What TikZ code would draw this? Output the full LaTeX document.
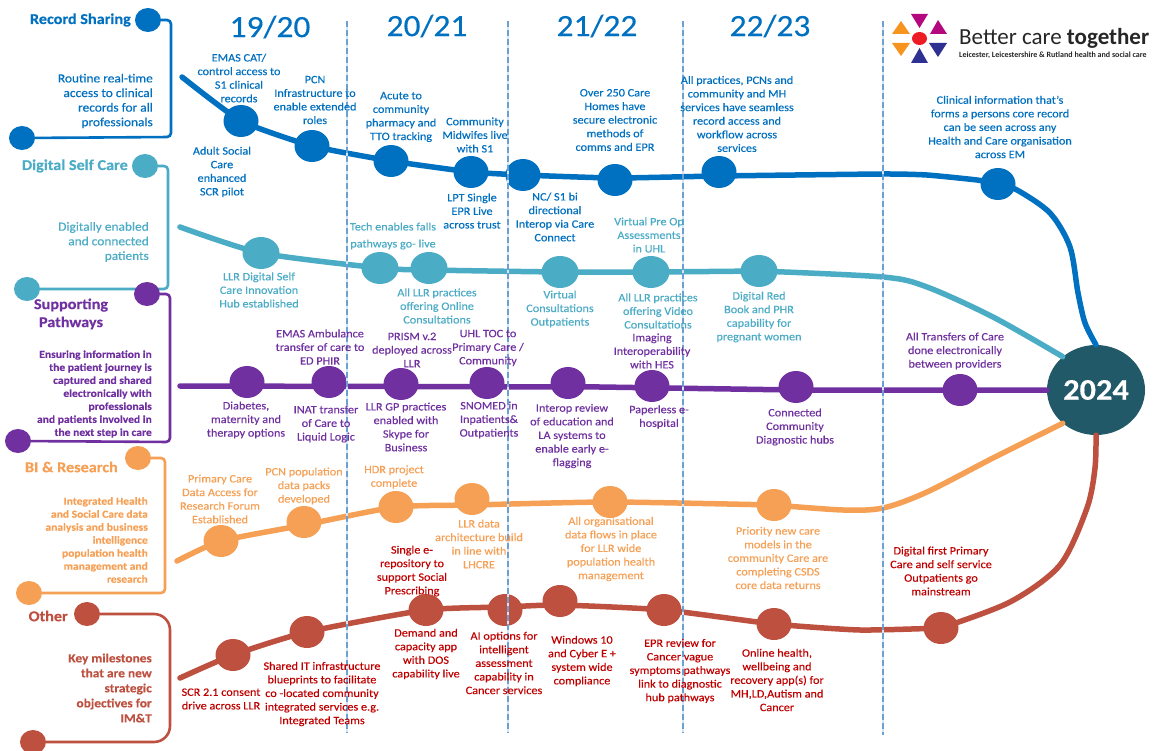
\documentclass[tikz,border=0pt]{standalone}
\usepackage{fontspec}
\setmainfont[FakeStretch=1.08,FakeBold=0.25]{Carlito}
\newfontfamily\logofont{Carlito}
\usetikzlibrary{shapes.geometric}
\definecolor{cblue}{HTML}{0070C0}
\definecolor{cteal}{HTML}{4BACC6}
\definecolor{cpurp}{HTML}{7030A0}
\definecolor{corange}{HTML}{F6A055}
\definecolor{cbrick}{HTML}{BE5040}
\definecolor{credtxt}{HTML}{C00000}
\definecolor{chub}{HTML}{215968}
\definecolor{cdash}{HTML}{4A8AC8}
\definecolor{cdashbg}{HTML}{D5E5F4}
\definecolor{lmag}{HTML}{B5087F}
\definecolor{lnavy}{HTML}{2E3192}
\definecolor{lorange}{HTML}{F7941D}
\definecolor{lred}{HTML}{ED1C24}
\tikzset{
  x=1pt,y=-1pt,
  dot/.style={ellipse,inner sep=0pt,minimum width=35pt,minimum height=32pt,fill=#1},
  tabdot/.style={ellipse,inner sep=0pt,minimum width=26pt,minimum height=24pt,fill=#1},
  timeline/.style={draw=#1,line width=5.5pt,line cap=round},
  bracketline/.style={draw=#1,line width=2.6pt},
  divider/.style={draw=cdash,line width=1.1pt,dash pattern=on 6pt off 3pt,opacity=.75,
    preaction={draw=cdashbg,line width=2.8pt,solid}},
  mile/.style={inner sep=0pt,align=center,text=#1,font=\fontsize{11.3}{13.6}\selectfont},
  desc/.style={inner sep=0pt,align=right,text=#1,anchor=east,font=\fontsize{12.4}{14.6}\selectfont},
  descs/.style={inner sep=0pt,align=right,text=#1,anchor=east,font=\fontsize{10.7}{13}\selectfont\bfseries},
  heading/.style={inner sep=0pt,text=#1,font=\fontsize{15}{18}\selectfont\bfseries},
  year/.style={inner sep=0pt,text=cblue,font=\fontsize{31}{34}\selectfont},
}
\begin{document}
\begin{tikzpicture}
\useasboundingbox (0,0) rectangle (1153,751);
\fill[white] (0,0) rectangle (1153,751);

% hub
\node[ellipse,inner sep=0pt,minimum width=98pt,minimum height=90pt,fill=chub,text=white,font=\fontsize{30}{32}\selectfont\bfseries] (hub) at (1096,390) {2024};

% tab brackets
\node[tabdot=cblue] (ra) at (148,20) {};
\node[tabdot=cblue] (rb) at (22,138) {};
\node[tabdot=cteal] (da) at (145,166) {};
\node[tabdot=cteal] (db) at (27,289) {};
\node[tabdot=corange] (ba) at (138,458) {};
\node[tabdot=corange] (bb) at (29,593) {};
\node[tabdot=cbrick] (oa) at (87,614) {};
\node[tabdot=cbrick] (ob) at (33,742) {};
\coordinate (rc) at (171,137);
\coordinate (dc) at (168,289);
\coordinate (sc) at (170,442);
\coordinate (bc) at (165,593);
\coordinate (oc) at (170,742);
\draw[bracketline=cblue,rounded corners=4pt] (ra) -| (rc) [rounded corners=16pt] -- (rb);
\draw[bracketline=cteal,rounded corners=4pt] (da) -| (dc) [rounded corners=16pt] -- (db);
\node[tabdot=cpurp] (sa) at (147,294) {};
\node[tabdot=cpurp] (sb) at (18,441) {};
\draw[bracketline=cpurp,rounded corners=4pt] (sa) -| (sc) [rounded corners=16pt] -- (sb);
\draw[bracketline=corange,rounded corners=4pt] (ba) -| (bc) [rounded corners=16pt] -- (bb);
\draw[bracketline=cbrick,rounded corners=16pt] (oa) -| (oc) -- (ob);

% blue line
\coordinate (bs) at (182,77);
\node[dot=cblue] (b1) at (241,121) {};
\node[dot=cblue] (b2) at (312,146) {};
\node[dot=cblue] (b3) at (391,161) {};
\node[dot=cblue] (b4) at (471,172) {};
\node[dot=cblue] (b5) at (523,175) {};
\node[dot=cblue] (b6) at (615,180) {};
\node[dot=cblue] (b7) at (719,172) {};
\node[dot=cblue] (b8) at (998,184) {};
\coordinate (bl6) at (615,178);
\coordinate (bl7) at (719,176);
\coordinate (bw1) at (883,174);
\coordinate (bw0) at (927,175);
\coordinate (bw00) at (977,180);
\coordinate (bw2) at (1017,190);
\coordinate (bw3) at (1050,213);
\coordinate (bw4) at (1070,247);
\coordinate (bw5) at (1078,293);
\coordinate (bw6) at (1085,323);
\draw[timeline=cblue] plot[smooth,tension=.3] coordinates {(bs) (b1.center) (b2.center) (b3.center) (b4.center) (b5.center) (bl6) (bl7) (bw1) (bw0) (bw00) (b8.center)};
\draw[timeline=cblue] plot[smooth,tension=.5] coordinates {(b8.center) (bw2) (bw3) (bw4) (bw5) (bw6) (hub.north)};

% teal line
\coordinate (ts) at (180,227);
\node[dot=cteal,minimum width=37pt] (t1) at (261,253) {};
\node[dot=cteal,minimum width=37pt] (t2) at (380,268) {};
\node[dot=cteal,minimum width=37pt] (t3) at (429,268) {};
\node[dot=cteal,minimum width=37pt] (t4) at (560,272) {};
\node[dot=cteal,minimum width=37pt] (t5) at (651,272) {};
\node[dot=cteal,minimum width=37pt] (t6) at (759,271) {};
\coordinate (tl3) at (429,270);
\coordinate (tw1) at (883,277);
\coordinate (tw2) at (927,287);
\coordinate (tw3) at (993,317);
\draw[timeline=cteal] plot[smooth,tension=.4] coordinates {(ts) (t1.center) (t2.center) (tl3) (t4.center) (t5.center) (t6.center)};
\draw[timeline=cteal] plot[smooth,tension=.5] coordinates {(t6.center) (tw1) (tw2) (tw3) (hub.135)};

% purple line
\coordinate (ps) at (180,386);
\node[dot=cpurp] (p1) at (247,382) {};
\node[dot=cpurp] (p2) at (329,382) {};
\node[dot=cpurp] (p3) at (401,384) {};
\node[dot=cpurp] (p4) at (487,383) {};
\node[dot=cpurp] (p5) at (568,383) {};
\node[dot=cpurp] (p6) at (652,386) {};
\node[dot=cpurp] (p7) at (796,387) {};
\node[dot=cpurp] (p8) at (960,390) {};
\coordinate (pw1) at (600,387);
\draw[timeline=cpurp] (ps) -- (pw1) -- (p7.center |- 0,390) -- (hub.west);

% orange line
\coordinate (os) at (177,561);
\node[dot=corange] (o1) at (221,541) {};
\node[dot=corange] (o2) at (304,522) {};
\node[dot=corange] (o3) at (396,507) {};
\node[dot=corange] (o4) at (472,499) {};
\node[dot=corange] (o5) at (610,502) {};
\node[dot=corange] (o6) at (774,505) {};
\coordinate (ol2) at (304,525);
\coordinate (ol4) at (472,505);
\coordinate (ow1) at (843,510);
\coordinate (ow2) at (883,508);
\coordinate (ow3) at (927,492);
\coordinate (ow4) at (993,458);
\draw[timeline=corange] plot[smooth,tension=.35] coordinates {(os) (o1.center) (ol2) (o3.center) (ol4) (o5.center) (o6.center)};
\draw[timeline=corange] plot[smooth,tension=.5] coordinates {(o6.center) (ow1) (ow2) (ow3) (ow4) (hub.225)};

% red line
\coordinate (rs) at (180,678);
\node[dot=cbrick] (c1) at (233,655) {};
\node[dot=cbrick] (c2) at (307,632) {};
\node[dot=cbrick] (c3) at (426,610) {};
\node[dot=cbrick] (c4) at (505,610) {};
\node[dot=cbrick] (c5) at (560,601) {};
\node[dot=cbrick] (c6) at (664,610) {};
\node[dot=cbrick] (c7) at (774,624) {};
\node[dot=cbrick] (c8) at (941,628) {};
\coordinate (cl4) at (505,607);
\coordinate (cl5) at (560,605);
\coordinate (cw1) at (860,630);
\coordinate (cw2) at (1010,602);
\coordinate (cw3) at (1060,565);
\coordinate (cw4) at (1087,508);
\coordinate (cw5) at (1095,468);
\draw[timeline=cbrick] plot[smooth,tension=.35] coordinates {(rs) (c1.center) (c2.center) (c3.center) (cl4) (cl5) (c6.center) (c7.center) (cw1) (c8.center)};
\draw[timeline=cbrick] plot[smooth,tension=.5] coordinates {(c8.center) (cw2) (cw3) (cw4) (cw5) (hub.south)};

% dividers
\coordinate (v1t) at (347,21); \coordinate (v1b) at (347,733);
\coordinate (v2t) at (508,21); \coordinate (v2b) at (508,733);
\coordinate (v3t) at (683,21); \coordinate (v3b) at (683,733);
\coordinate (v4t) at (883,21); \coordinate (v4b) at (883,735);
\draw[divider] (v1t) -- (v1b);
\draw[divider] (v2t) -- (v2b);
\draw[divider] (v3t) -- (v3b);
\draw[divider] (v4t) -- (v4b);

% years
\node[year] (y1) at (270,27) {19/20};
\node[year] (y2) at (427,26) {20/21};
\node[year] (y3) at (597,26) {21/22};
\node[year] (y4) at (770,26) {22/23};

% logo
\fill[lmag] (911,14) -- (928,14) -- (919.5,28) -- cycle;
\fill[lmag] (938,20) -- (947,34) -- (930,34) -- cycle;
\fill[lnavy] (929,43) -- (947,43) -- (938,57) -- cycle;
\fill[lnavy] (919.5,48) -- (928,63) -- (911,63) -- cycle;
\fill[lorange] (892,43) -- (910,43) -- (901,56) -- cycle;
\fill[lorange] (901,21) -- (910,34) -- (892,34) -- cycle;
\fill[lred] (919.5,38.5) ellipse [x radius=7.5pt,y radius=6.5pt];
\node[inner sep=0pt,anchor=base west,text=black!85,font=\logofont\fontsize{23}{26}\selectfont] (logo) at (959,45) {Better care \textbf{together}};
\node[inner sep=0pt,anchor=base west,text=black!85,font=\logofont\fontsize{8}{9}\selectfont\bfseries] (logosub) at (959,58) {Leicester, Leicestershire \& Rutland health and social care};

% headings
\node[heading=cblue,anchor=east] (hr) at (131,20) {Record Sharing};
\node[heading=cteal,anchor=east] (hd) at (128,166) {Digital Self Care};
\node[heading=cpurp,align=center,font=\fontsize{15}{18}\selectfont\bfseries] (hs) at (71,314) {Supporting\\Pathways};
\node[heading=corange,anchor=east] (hb) at (118,467) {BI \& Research};
\node[heading=cbrick,anchor=east] (ho) at (68,616) {Other};

% descriptions
\node[desc=cblue] (dr) at (153,101) {Routine real-time\\access to clinical\\records for all\\professionals};
\node[desc=cteal] (dd) at (149,242) {Digitally enabled\\and connected\\patients};
\node[descs=cpurp] (ds) at (152,394) {Ensuring information in\\the patient journey is\\captured and shared\\electronically with\\professionals\\and patients involved in\\the next step in care};
\node[descs=corange] (db2) at (148,540) {Integrated Health\\and Social Care data\\analysis and business\\intelligence\\population health\\management and\\research};
\node[desc=cbrick,font=\fontsize{12.4}{15}\selectfont\bfseries] (do) at (152,688) {Key milestones\\that are new\\strategic\\objectives for\\IM\&T};

% blue labels
\node[mile=cblue] (lb1) at (239,78) {EMAS CAT/\\control access to\\S1 clinical\\records};
\node[mile=cblue] (lb2) at (222,172) {Adult Social\\Care\\enhanced\\SCR  pilot};
\node[mile=cblue] (lb3) at (315,100) {PCN\\Infrastructure to\\enable extended\\roles};
\node[mile=cblue] (lb4) at (401,117) {Acute to\\community\\pharmacy and\\TTO tracking};
\node[mile=cblue] (lb5) at (475,135) {Community\\Midwifes live\\with S1};
\node[mile=cblue] (lb6) at (472,211) {LPT Single\\EPR Live\\across trust};
\node[mile=cblue] (lb7) at (555,217) {NC/ S1 bi\\directional\\Interop via Care\\Connect};
\node[mile=cblue] (lb8) at (615,120) {Over 250 Care\\Homes have\\secure electronic\\methods of\\comms and EPR};
\node[mile=cblue] (lb9) at (737,114) {All practices, PCNs and\\community and MH\\services have seamless\\record access and\\workflow across\\services};
\node[mile=cblue] (lb10) at (1000,127) {Clinical information that's\\forms a persons core record\\can be seen across any\\Health and Care organisation\\across EM};

% teal labels
\node[mile=cteal,font=\fontsize{11.3}{17}\selectfont] (lt1) at (393,236) {Tech enables falls\\pathways go- live};
\node[mile=cteal] (lt2) at (259,290) {LLR Digital Self\\Care Innovation\\Hub established};
\node[mile=cteal] (lt3) at (437,306) {All LLR practices\\offering Online\\Consultations};
\node[mile=cteal] (lt4) at (560,309) {Virtual\\Consultations\\Outpatients};
\node[mile=cteal] (lt5) at (649,235) {Virtual Pre Op\\Assessments\\in UHL};
\node[mile=cteal] (lt6) at (658,311) {All LLR practices\\offering Video\\Consultations};
\node[mile=cteal] (lt7) at (759,317) {Digital Red\\Book and PHR\\capability for\\pregnant women};

% purple labels
\node[mile=cpurp] (lp1) at (320,347) {EMAS Ambulance\\transfer of care to\\ED PHIR};
\node[mile=cpurp] (lp2) at (412,350) {PRISM v.2\\deployed across\\LLR};
\node[mile=cpurp] (lp3) at (488,348) {UHL TOC to\\Primary Care /\\Community};
\node[mile=cpurp] (lp4) at (652,351) {Imaging\\Interoperability\\with HES};
\node[mile=cpurp] (lp5) at (955,351) {All Transfers of Care\\done electronically\\between providers};
\node[mile=cpurp] (lp6) at (246,420) {Diabetes,\\maternity and\\therapy options};
\node[mile=cpurp] (lp7) at (326,424) {INAT transfer\\of Care to\\Liquid Logic};
\node[mile=cpurp] (lp8) at (406,427) {LLR GP practices\\enabled with\\Skype for\\Business};
\node[mile=cpurp] (lp9) at (489,420) {SNOMED in\\Inpatients\&\\Outpatients};
\node[mile=cpurp] (lp10) at (572,436) {Interop review\\of education and\\LA systems to\\enable early e-\\flagging};
\node[mile=cpurp] (lp11) at (659,417) {Paperless e-\\hospital};
\node[mile=cpurp] (lp12) at (795,427) {Connected\\Community\\Diagnostic hubs};

% orange labels
\node[mile=corange] (lo1) at (220,499) {Primary Care\\Data Access for\\Research Forum\\Established};
\node[mile=corange] (lo2) at (304,486) {PCN population\\data packs\\developed};
\node[mile=corange] (lo3) at (394,477) {HDR project\\complete};
\node[mile=corange] (lo4) at (479,544) {LLR data\\architecture build\\in line with\\LHCRE};
\node[mile=corange] (lo5) at (611,549) {All organisational\\data flows in place\\for LLR wide\\population health\\management};
\node[mile=corange] (lo6) at (778,558) {Priority new care\\models in the\\community Care are\\completing CSDS\\core data returns};

% red labels
\node[mile=credtxt] (lc1) at (412,571) {Single e-\\repository to\\support Social\\Prescribing};
\node[mile=credtxt] (lc2) at (941,571) {Digital first Primary\\Care and self service\\Outpatients go\\mainstream};
\node[mile=credtxt] (lc3) at (221,699) {SCR 2.1 consent\\drive across LLR};
\node[mile=credtxt] (lc4) at (322,694) {Shared IT infrastructure\\blueprints to facilitate\\co -located community\\integrated services e.g.\\Integrated Teams};
\node[mile=credtxt] (lc5) at (426,654) {Demand and\\capacity app\\with DOS\\capability live};
\node[mile=credtxt] (lc6) at (504,663) {AI options for\\intelligent\\assessment\\capability in\\Cancer services};
\node[mile=credtxt] (lc7) at (582,661) {Windows 10\\and Cyber E +\\system wide\\compliance};
\node[mile=credtxt] (lc8) at (680,671) {EPR review for\\Cancer vague\\symptoms pathways\\link to diagnostic\\hub pathways};
\node[mile=credtxt] (lc9) at (777,680) {Online health,\\wellbeing and\\recovery app(s) for\\MH,LD,Autism and\\Cancer};
\end{tikzpicture}
\end{document}
